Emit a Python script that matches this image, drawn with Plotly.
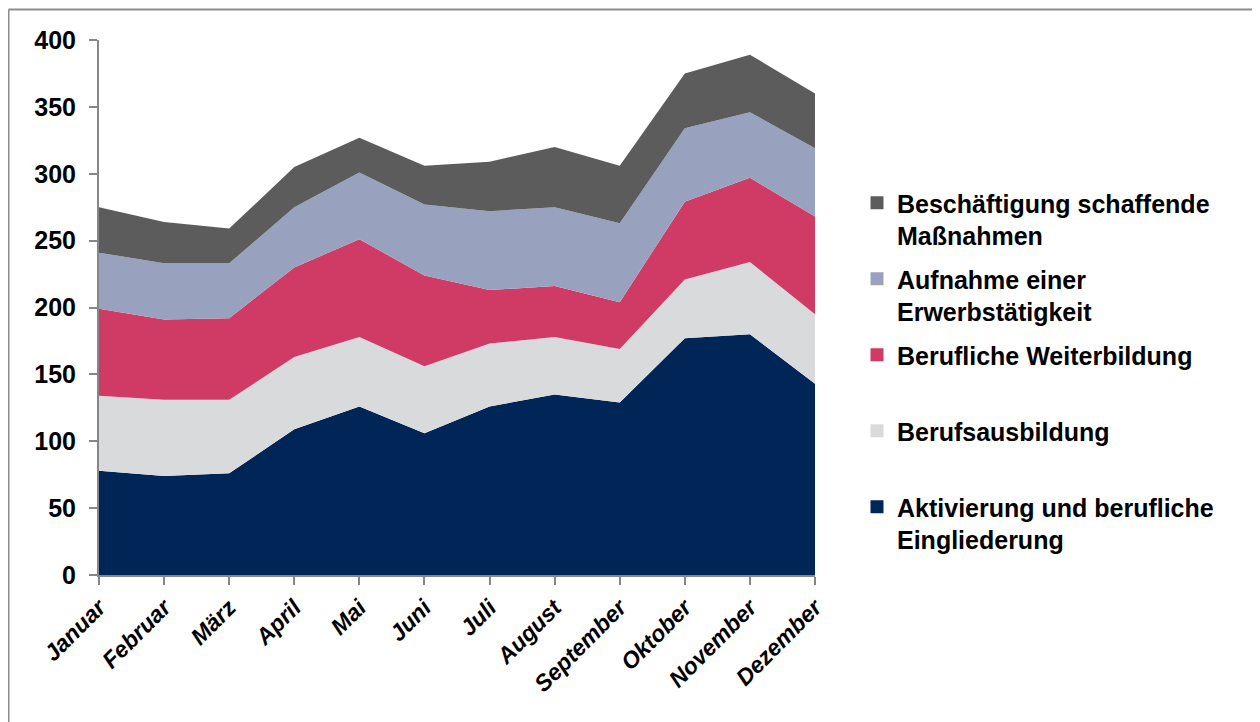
import plotly.graph_objects as go

months = ["Januar", "Februar", "März", "April", "Mai", "Juni", "Juli",
          "August", "September", "Oktober", "November", "Dezember"]

aktivierung = [78, 74, 76, 109, 126, 106, 126, 135, 129, 177, 180, 143]
berufsausbildung = [56, 57, 55, 54, 52, 50, 47, 43, 40, 44, 54, 52]
weiterbildung = [65, 60, 61, 67, 73, 68, 40, 38, 35, 58, 63, 73]
erwerbstaetigkeit = [42, 42, 41, 45, 50, 53, 59, 59, 59, 55, 49, 51]
beschaeftigung = [34, 31, 26, 30, 26, 29, 37, 45, 43, 41, 43, 41]

y_ticks = [0, 50, 100, 150, 200, 250, 300, 350, 400]

series = [
    ("Aktivierung und berufliche<br>Eingliederung", aktivierung, "#002658"),
    ("Berufsausbildung<br> ", berufsausbildung, "#d9dadc"),
    ("Berufliche Weiterbildung<br> ", weiterbildung, "#cf3b64"),
    ("Aufnahme einer<br>Erwerbstätigkeit", erwerbstaetigkeit, "#98a2bf"),
    ("Beschäftigung schaffende<br>Maßnahmen", beschaeftigung, "#5c5c5c"),
]

FONT = "Liberation Sans, Arial, sans-serif"

fig = go.Figure()
for i, (name, vals, col) in enumerate(series):
    fig.add_trace(go.Scatter(
        x=months, y=vals, name=name, mode="lines",
        stackgroup="one", line=dict(width=0, color=col),
        fillcolor=col, showlegend=False,
    ))
for i, (name, vals, col) in enumerate(series):
    fig.add_trace(go.Scatter(
        x=[None], y=[None], name=name, mode="markers",
        marker=dict(symbol="square", size=13, color=col),
        legendgroup=f"g{i}", legendrank=100 - i,
    ))

# page offset of 8px (body margin)
OFF = 8
L, R, T, B = 99 - OFF, 815 - OFF, 40 - OFF, 575 - OFF
W, H = 1252, 714
pw, ph = R - L, B - T

def px(x):
    return (x - OFF - L) / pw

def py(y):
    return (B - (y - OFF)) / ph

fig.update_layout(
    width=W, height=H,
    margin=dict(l=L, r=W - R, t=T, b=H - B),
    paper_bgcolor="white", plot_bgcolor="white",
    font=dict(family=FONT, color="black"),
    showlegend=True,
    legend=dict(
        x=px(857), y=py(180), xanchor="left", yanchor="top",
        traceorder="grouped", tracegroupgap=8,
        valign="top",
        font=dict(size=25, family=FONT, color="black", weight="bold"),
        itemwidth=30, bgcolor="rgba(0,0,0,0)",
    ),
    xaxis=dict(
        range=[0, 11], showgrid=False, zeroline=False,
        showline=True, linecolor="#868686", linewidth=2,
        ticks="outside", ticklen=8, tickcolor="#868686", tickwidth=2,
        tickangle=-45,
        tickfont=dict(size=23, family=FONT,
                      color="black", weight="bold", style="italic"),
    ),
    yaxis=dict(
        range=[0, 400], tickvals=y_ticks, showgrid=False, zeroline=False,
        showline=True, linecolor="#868686", linewidth=2,
        ticks="outside", ticklen=8, tickcolor="#868686", tickwidth=2,
        ticklabelstandoff=8,
        tickfont=dict(size=25, family=FONT,
                      color="black", weight="bold"),
    ),
    shapes=[
        dict(type="line", xref="paper", yref="paper",
             x0=px(8.5), x1=px(1270), y0=py(9.5), y1=py(9.5),
             line=dict(color="#8c8c8c", width=2)),
        dict(type="line", xref="paper", yref="paper",
             x0=px(8.5), x1=px(8.5), y0=py(9.5), y1=py(740),
             line=dict(color="#8c8c8c", width=2)),
    ],
)

fig.write_html("out.html")
